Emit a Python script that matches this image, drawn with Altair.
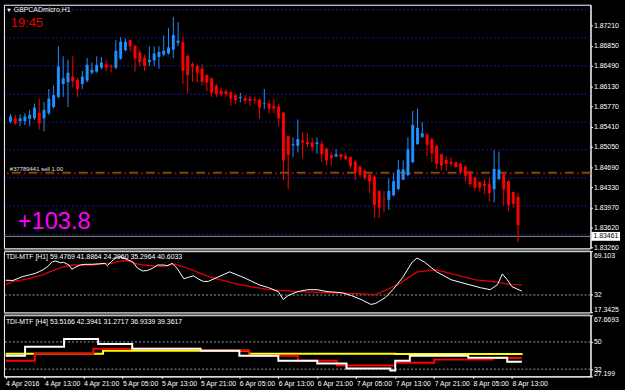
import altair as alt
import pandas as pd

# ---------------- data ----------------
opens = [1.8550, 1.8556, 1.8551, 1.8551, 1.8555, 1.8556, 1.8566, 1.8556, 1.8565, 1.8576,
         1.8594, 1.8617, 1.8620, 1.8630, 1.8624, 1.8617, 1.8623, 1.8637, 1.8639, 1.8646,
         1.8652, 1.8649, 1.8646, 1.8662, 1.8677, 1.8695, 1.8685, 1.8673, 1.8664, 1.8656,
         1.8659, 1.8665, 1.8669, 1.8671, 1.8678, 1.8690, 1.8691, 1.8667, 1.8652, 1.8649,
         1.8644, 1.8633, 1.8627, 1.8614, 1.8605, 1.8604, 1.8602, 1.8597, 1.8592, 1.8592,
         1.8591, 1.8590, 1.8589, 1.8582, 1.8582, 1.8578, 1.8577, 1.8566, 1.8524, 1.8508,
         1.8507, 1.8517, 1.8514, 1.8513, 1.8510, 1.8511, 1.8502, 1.8491, 1.8488, 1.8492,
         1.8489, 1.8487, 1.8479, 1.8470, 1.8463, 1.8456, 1.8452, 1.8427, 1.8413, 1.8411,
         1.8419, 1.8430, 1.8447, 1.8455, 1.8478, 1.8510, 1.8523, 1.8527, 1.8519, 1.8507,
         1.8492, 1.8482, 1.8479, 1.8478, 1.8475, 1.8470, 1.8462, 1.8451, 1.8443, 1.8439,
         1.8439, 1.8430, 1.8448, 1.8457, 1.8444, 1.8425, 1.8416]
highs = [1.8564, 1.8562, 1.8563, 1.8565, 1.8571, 1.8582, 1.8591, 1.8585, 1.8608, 1.8614,
         1.8684, 1.8666, 1.8660, 1.8666, 1.8628, 1.8640, 1.8663, 1.8655, 1.8666, 1.8665,
         1.8659, 1.8652, 1.8695, 1.8700, 1.8698, 1.8696, 1.8686, 1.8678, 1.8669, 1.8684,
         1.8684, 1.8684, 1.8703, 1.8716, 1.8736, 1.8727, 1.8701, 1.8669, 1.8656, 1.8652,
         1.8652, 1.8634, 1.8628, 1.8617, 1.8609, 1.8608, 1.8605, 1.8599, 1.8601, 1.8597,
         1.8595, 1.8594, 1.8591, 1.8608, 1.8588, 1.8591, 1.8582, 1.8567, 1.8525, 1.8522,
         1.8554, 1.8531, 1.8530, 1.8521, 1.8522, 1.8516, 1.8504, 1.8495, 1.8501, 1.8493,
         1.8495, 1.8488, 1.8481, 1.8472, 1.8465, 1.8458, 1.8455, 1.8428, 1.8427, 1.8449,
         1.8458, 1.8482, 1.8481, 1.8522, 1.8569, 1.8573, 1.8549, 1.8530, 1.8521, 1.8509,
         1.8493, 1.8488, 1.8487, 1.8479, 1.8476, 1.8472, 1.8462, 1.8452, 1.8444, 1.8448,
         1.8450, 1.8499, 1.8497, 1.8461, 1.8446, 1.8426, 1.8423]
lows = [1.8547, 1.8544, 1.8542, 1.8544, 1.8542, 1.8553, 1.8536, 1.8533, 1.8562, 1.8573,
        1.8591, 1.8594, 1.8576, 1.8611, 1.8594, 1.8608, 1.8620, 1.8634, 1.8637, 1.8643,
        1.8640, 1.8638, 1.8643, 1.8660, 1.8675, 1.8675, 1.8639, 1.8649, 1.8640, 1.8649,
        1.8649, 1.8644, 1.8666, 1.8669, 1.8663, 1.8684, 1.8617, 1.8601, 1.8621, 1.8620,
        1.8614, 1.8604, 1.8594, 1.8594, 1.8595, 1.8594, 1.8578, 1.8582, 1.8584, 1.8582,
        1.8578, 1.8582, 1.8555, 1.8572, 1.8565, 1.8565, 1.8542, 1.8446, 1.8430, 1.8487,
        1.8495, 1.8485, 1.8504, 1.8497, 1.8493, 1.8479, 1.8472, 1.8472, 1.8487, 1.8482,
        1.8481, 1.8466, 1.8446, 1.8452, 1.8446, 1.8423, 1.8379, 1.8379, 1.8388, 1.8393,
        1.8417, 1.8428, 1.8446, 1.8453, 1.8476, 1.8509, 1.8521, 1.8489, 1.8478, 1.8465,
        1.8463, 1.8463, 1.8470, 1.8468, 1.8458, 1.8444, 1.8435, 1.8427, 1.8426, 1.8422,
        1.8408, 1.8407, 1.8446, 1.8401, 1.8391, 1.8397, 1.8336]
closes = [1.8559, 1.8547, 1.8556, 1.8559, 1.8562, 1.8575, 1.8547, 1.8571, 1.8591, 1.8597,
          1.8648, 1.8627, 1.8637, 1.8622, 1.8608, 1.8630, 1.8651, 1.8642, 1.8651, 1.8655,
          1.8646, 1.8647, 1.8676, 1.8692, 1.8692, 1.8684, 1.8662, 1.8656, 1.8649, 1.8660,
          1.8671, 1.8674, 1.8676, 1.8682, 1.8704, 1.8694, 1.8640, 1.8633, 1.8648, 1.8637,
          1.8621, 1.8620, 1.8601, 1.8599, 1.8599, 1.8599, 1.8591, 1.8588, 1.8594, 1.8587,
          1.8587, 1.8588, 1.8575, 1.8583, 1.8573, 1.8573, 1.8556, 1.8481, 1.8491, 1.8510,
          1.8519, 1.8513, 1.8510, 1.8505, 1.8513, 1.8492, 1.8481, 1.8485, 1.8492, 1.8487,
          1.8484, 1.8471, 1.8459, 1.8456, 1.8450, 1.8444, 1.8402, 1.8397, 1.8412, 1.8427,
          1.8444, 1.8465, 1.8465, 1.8501, 1.8544, 1.8539, 1.8529, 1.8509, 1.8494, 1.8475,
          1.8472, 1.8475, 1.8475, 1.8469, 1.8461, 1.8454, 1.8439, 1.8433, 1.8433, 1.8436,
          1.8423, 1.8466, 1.8465, 1.8430, 1.8402, 1.8404, 1.8366]

time_labels = ["4 Apr 2016", "4 Apr 13:00", "4 Apr 21:00", "5 Apr 05:00", "5 Apr 13:00",
               "5 Apr 21:00", "6 Apr 05:00", "6 Apr 13:00", "6 Apr 21:00", "7 Apr 05:00",
               "7 Apr 13:00", "7 Apr 21:00", "8 Apr 05:00", "8 Apr 13:00"]
time_label_idx = [0, 8, 16, 24, 32, 40, 48, 56, 64, 72, 80, 88, 96, 104]

price_ticks = [1.8721, 1.8685, 1.8649, 1.8613, 1.8577, 1.8541, 1.8505, 1.8469,
               1.8433, 1.8397, 1.8362, 1.8326]
grid_prices = [1.8749, 1.8699, 1.8649, 1.8599, 1.8549, 1.8500, 1.8450, 1.8400, 1.8350]
order_price = 1.84582
bid_price = 1.83461

# TDI H1 panel
h1_white_i = [0, 1.5, 3.5, 4.9, 6.2, 6.9, 7.6, 8.6, 9.6, 10.2, 11.3, 11.9, 13, 13.6, 14.3,
              15.3, 16.3, 17.7, 19, 20.4, 20.9, 21.7, 22.7, 23.7, 24.8, 26.1, 27.1, 28.1,
              29.1, 30.2, 31.2, 32.5, 33.2, 34.2, 35.2, 36.6, 37.6, 38.6, 39.6, 40.6, 41.6,
              46, 49, 52, 54, 56, 57, 58, 60, 62, 64, 66, 69, 71, 73, 75, 76, 78, 79.5,
              81.5, 83.5, 84.5, 86, 88.5, 91.5, 94.5, 97.5, 99.5, 101, 102, 103, 104, 106]
h1_white_v = [44.5, 44.3, 47.6, 49.0, 50.5, 51.8, 53.2, 56.0, 60.2, 60.8, 59.3, 59.7, 57.4,
              53.8, 55.5, 57.4, 58.0, 58.0, 58.3, 58.8, 56.8, 60.2, 63.8, 64.3, 62.2, 60.2,
              54.7, 52.4, 52.7, 54.7, 57.4, 57.4, 56.8, 58.8, 54.7, 45.7, 47.1, 48.2, 45.5,
              43.5, 43.5, 51.6, 46.6, 40.7, 38.2, 34.9, 28.2, 31.5, 34.9, 36.5, 36.5, 34.9,
              34.0, 31.5, 28.2, 24.0, 24.9, 29.9, 36.5, 46.6, 59.9, 63.3, 59.9, 51.6, 44.9,
              41.5, 38.2, 36.5, 40.7, 49.9, 44.9, 39.0, 35.3]
h1_red_i = [0, 1.5, 3.5, 5.5, 7.6, 9.6, 11.6, 13.6, 15.6, 17.7, 19.7, 21.7, 23.7, 25.1, 26.4,
            28.5, 30.5, 32.5, 34.5, 35.9, 37.9, 39.9, 42, 48, 54, 60, 66, 72, 76, 80.5,
            84.5, 88.5, 92.5, 96.6, 100.7, 103.7, 106]
h1_red_v = [40.7, 43.5, 44.9, 46.8, 49.1, 52.7, 55.5, 57.4, 57.4, 57.4, 58.3, 58.8, 60.8,
            60.8, 58.8, 57.4, 56.6, 56.0, 58.3, 56.6, 53.8, 50.5, 47.1, 40.7, 36.5, 34.9,
            34.0, 33.2, 32.4, 40.7, 51.6, 53.2, 49.1, 44.9, 43.2, 40.7, 40.6]

# TDI H4 panel (multi-timeframe, step lines)
h4_white_i = [0, 4, 12, 19, 26, 40, 48, 56, 64, 70, 79, 80, 83, 95, 103, 106]
h4_white_v = [40.9, 46.8, 52.0, 48.7, 45.5, 44.2, 40.9, 37.6, 35.7, 32.4, 31.1, 37.6, 40.9,
              39.6, 36.9, 36.9]
h4_red_i = [0, 6, 18, 40, 50, 60, 68, 80, 88, 100, 106]
h4_red_v = [37.6, 42.2, 45.5, 44.2, 40.9, 37.6, 34.4, 36.3, 38.3, 39.4, 39.4]
h4_yel_i = [0, 20, 50, 80, 106]
h4_yel_v = [42.2, 44.2, 42.2, 42.0, 42.4]

# ---------------- chart ----------------
W = 595
FONT = "Liberation Sans"
xs = alt.Scale(domain=[-0.344, 120.1], nice=False, zero=False)
ys_main = alt.Scale(domain=[1.8325, 1.87578], nice=False, zero=False)
ys_h1 = alt.Scale(domain=[17.3425, 69.103], nice=False, zero=False)
ys_h4 = alt.Scale(domain=[27.199, 67.6693], nice=False, zero=False)

df = pd.DataFrame({"i": list(range(len(opens))), "o": opens, "h": highs, "l": lows, "c": closes})
df["dir"] = ["up" if c >= o else "down" for o, c in zip(opens, closes)]
color = alt.Color("dir:N", scale=alt.Scale(domain=["up", "down"], range=["#1e90ff", "#ff0000"]),
                  legend=None)

ax_common = dict(labelColor="#ffffff", labelFont=FONT, labelFontSize=7, tickColor="#ffffff",
                 domainColor="#ffffff", tickSize=2, labelPadding=1, grid=False, title=None,
                 labelOverlap=False, labelBound=False)

# identical axis objects shared by every layer of a panel
ax_main = alt.Axis(orient="right", values=price_ticks, format=".5f", **ax_common)
ax_h1 = alt.Axis(orient="right", values=[69.103, 32, 17.3425],
                 labelExpr="format(datum.value, '~f')", labelFlush=True, **ax_common)
ax_h4 = alt.Axis(orient="right", values=[67.6693, 50, 32, 27.199],
                 labelExpr="format(datum.value, '~f')", labelFlush=True, **ax_common)
label_expr = "[" + ",".join("'" + t + "'" for t in time_labels) + "][round(datum.value / 8)]"
ax_time = alt.Axis(orient="bottom", values=time_label_idx, labelExpr=label_expr,
                   labelAlign="left", labelFlush=False, labelBaseline="top", **ax_common)

xenc = alt.X("i:Q", scale=xs, axis=None)
xenc_t = alt.X("i:Q", scale=xs, axis=ax_time)


def Ym(field):
    return alt.Y(field, scale=ys_main, axis=ax_main)


grid = alt.Chart(pd.DataFrame({"p": grid_prices})).mark_rule(
    color="#1a1a9a", strokeDash=[2, 2], strokeWidth=1).encode(y=Ym("p:Q"))

wicks = alt.Chart(df).mark_rule(strokeWidth=1).encode(x=xenc, y=Ym("l:Q"), y2="h:Q", color=color)
bodies = alt.Chart(df).mark_bar(size=3).encode(x=xenc, y=Ym("o:Q"), y2="c:Q", color=color)

order_red = alt.Chart(pd.DataFrame({"p": [order_price]})).mark_rule(
    color="#b00000", strokeWidth=2, strokeDash=[9, 3, 2, 3]).encode(y=Ym("p:Q"))
order_green = alt.Chart(pd.DataFrame({"p": [order_price]})).mark_rule(
    color="#10a010", strokeWidth=1, strokeDash=[9, 8], yOffset=-1).encode(y=Ym("p:Q"))
bid = alt.Chart(pd.DataFrame({"p": [bid_price]})).mark_rule(
    color="#909090", strokeWidth=1).encode(y=Ym("p:Q"))
bid_box = alt.Chart(pd.DataFrame({"p": [bid_price]})).mark_rule(
    color="#ffffff", strokeWidth=9).encode(x=alt.value(W + 1), x2=alt.value(W + 30), y=Ym("p:Q"))
bid_txt = alt.Chart(pd.DataFrame({"p": [bid_price], "t": ["1.83461"]})).mark_text(
    align="left", baseline="middle", font=FONT, fontSize=7, color="#000000"
).encode(x=alt.value(W + 3), y=Ym("p:Q"), text="t:N")

sep = alt.Chart(pd.DataFrame({"a": [0]})).mark_rule(color="#808080", strokeWidth=2).encode(
    x=alt.value(0), x2=alt.value(W), y=alt.value(248.5))


def label(txt, x, y, size, col, baseline="top", weight="normal"):
    return alt.Chart(pd.DataFrame({"t": [txt]})).mark_text(
        align="left", baseline=baseline, font=FONT, fontSize=size, color=col, fontWeight=weight
    ).encode(x=alt.value(x), y=alt.value(y), text="t:N")


main = alt.layer(
    grid, order_red, order_green, bid, wicks, bodies, bid_box, bid_txt, sep,
    label("\u25BC", 2, 2, 6, "#ffffff"),
    label("GBPCADmicro,H1", 10, 1, 7, "#ffffff"),
    label("19:45", 7, 23, 13, "#e00000", baseline="alphabetic"),
    label("#37789441 sell 1.00", 6, 169, 6, "#e0e0e0", baseline="alphabetic"),
    label("+103.8", 14, 227, 24, "#ff00ff", baseline="alphabetic"),
).properties(width=W, height=247)

# ---- H1 TDI panel ----
lvl1 = alt.Chart(pd.DataFrame({"v": [32]})).mark_rule(
    color="#a0a0a0", strokeDash=[2, 2]).encode(y=alt.Y("v:Q", scale=ys_h1, axis=ax_h1))
h1w = alt.Chart(pd.DataFrame({"i": h1_white_i, "v": h1_white_v})).mark_line(
    color="#ffffff", strokeWidth=1).encode(x=xenc, y=alt.Y("v:Q", scale=ys_h1, axis=ax_h1))
h1r = alt.Chart(pd.DataFrame({"i": h1_red_i, "v": h1_red_v})).mark_line(
    color="#e00000", strokeWidth=1.3).encode(x=xenc, y=alt.Y("v:Q", scale=ys_h1, axis=ax_h1))
sep1 = alt.Chart(pd.DataFrame({"a": [0]})).mark_rule(color="#808080", strokeWidth=2).encode(
    x=alt.value(0), x2=alt.value(W), y=alt.value(63.5))
p1 = alt.layer(
    lvl1, h1r, h1w, sep1,
    label("TDI-MTF [H1] 59.4769 41.8864 24.2960 35.2964 40.6033", 2, 2, 7, "#ffffff"),
).properties(width=W, height=62)

# ---- H4 TDI panel ----
lvl2 = alt.Chart(pd.DataFrame({"v": [50, 32]})).mark_rule(
    color="#a0a0a0", strokeDash=[2, 2]).encode(y=alt.Y("v:Q", scale=ys_h4, axis=ax_h4))
h4w = alt.Chart(pd.DataFrame({"i": h4_white_i, "v": h4_white_v})).mark_line(
    color="#ffffff", strokeWidth=2, interpolate="step-after").encode(
    x=xenc_t, y=alt.Y("v:Q", scale=ys_h4, axis=ax_h4))
h4r = alt.Chart(pd.DataFrame({"i": h4_red_i, "v": h4_red_v})).mark_line(
    color="#ff0000", strokeWidth=2, interpolate="step-after").encode(
    x=xenc_t, y=alt.Y("v:Q", scale=ys_h4, axis=ax_h4))
h4y = alt.Chart(pd.DataFrame({"i": h4_yel_i, "v": h4_yel_v})).mark_line(
    color="#ffff00", strokeWidth=2, interpolate="step-after").encode(
    x=xenc_t, y=alt.Y("v:Q", scale=ys_h4, axis=ax_h4))
p2 = alt.layer(
    lvl2, h4y, h4r, h4w,
    label("TDI-MTF [H4] 53.5166 42.3941 31.2717 36.9339 39.3617", 2, 3, 7, "#ffffff"),
).properties(width=W, height=62)

chart = alt.vconcat(main, p1, p2, spacing=3, bounds="flush").configure(
    background="#000000", padding={"left": 1, "top": 1, "right": 0, "bottom": 0}
).configure_view(stroke="#ffffff", strokeWidth=1).configure_axis(labelOverlap=False)

chart.save("out.html", embed_options={"renderer": "svg", "actions": False})
